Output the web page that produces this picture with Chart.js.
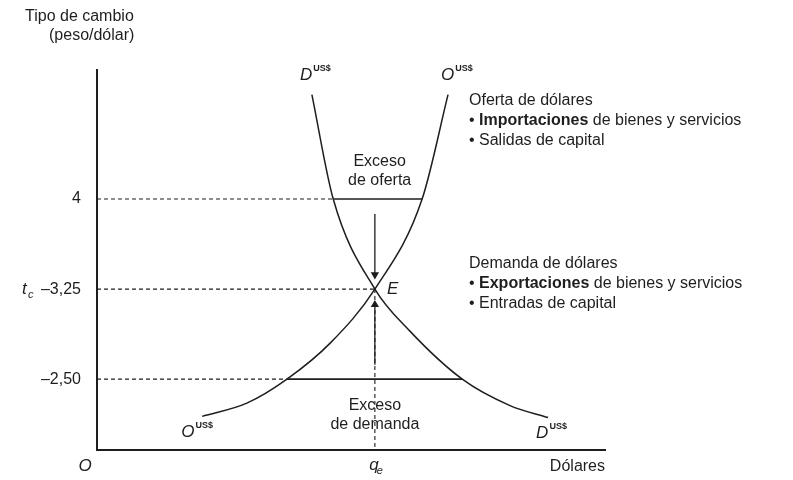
<!DOCTYPE html>
<html lang="es">
<head>
<meta charset="utf-8">
<title>Tipo de cambio - oferta y demanda de dólares</title>
<script src="https://cdn.jsdelivr.net/npm/chart.js@4.4.1/dist/chart.umd.min.js"></script>
<style>
    html, body { margin: 0; padding: 0; background: #fff; }
    #wrap { width: 793px; height: 480px; }
</style>
</head>
<body>
<div id="wrap"><canvas id="chart-fx" width="793" height="480"></canvas></div>
<script>
// Oferta de dólares (O US$): cantidad de dólares / tipo de cambio
const supplyQty  = [20.7, 29.5, 37.4, 45.9, 54.7, 64.0, 69.1];
const supplyRate = [2.19, 2.30, 2.50, 2.80, 3.25, 4.00, 4.87];

// Demanda de dólares (D US$)
const demandQty  = [42.3, 46.5, 54.7, 61.6, 71.9, 81.3, 88.8];
const demandRate = [4.87, 4.00, 3.25, 2.90, 2.50, 2.28, 2.18];

// Eje vertical
const yTicks      = [4, 3.25, 2.5];
const yTickLabels = ['4', '–3,25', '–2,50'];

// Equilibrio y excesos
const eqQty = 54.7, eqRate = 3.25;
const highRate = 4,   highQty   = [46.5, 64.0];   // exceso de oferta (D → O)
const lowRate  = 2.5, lowQty    = [37.4, 71.9];   // exceso de demanda (O → D)
const arrowDown = [3.875, 3.37];
const arrowUp   = [2.62, 3.12];

const Y_MIN = 1.91, Y_MAX = 5.075;
const INK = '#1e1e1e';
const FONT = '"Liberation Sans", Arial, sans-serif';

const pts = (xs, ys) => xs.map((x, i) => ({ x, y: ys[i] }));

const curve = (data) => ({
    data, borderColor: INK, borderWidth: 1.5, pointRadius: 0,
    cubicInterpolationMode: 'monotone', fill: false
});
const seg = (data, dashed) => ({
    data, borderColor: INK, borderWidth: dashed ? 1.1 : 1.6, pointRadius: 0,
    borderDash: dashed ? [4, 3] : [], fill: false
});
const arrow = (data, rot) => ({
    data, borderColor: INK, backgroundColor: INK, borderWidth: 1.3,
    pointStyle: 'triangle', pointRadius: [0, 3.5], pointRotation: rot, fill: false
});

// textos sobre el gráfico
const labelsPlugin = {
    id: 'labels',
    afterDraw(chart) {
        const { ctx } = chart;
        const xs = chart.scales.x, ys = chart.scales.y;
        const px = v => xs.getPixelForValue(v);
        const py = v => ys.getPixelForValue(v);

        ctx.save();
        ctx.fillStyle = INK;
        ctx.textBaseline = 'middle';

        const text = (s, x, y, opts = {}) => {
            ctx.font = `${opts.italic ? 'italic ' : ''}${opts.bold ? 'bold ' : ''}${opts.size || 16}px ${FONT}`;
            ctx.textAlign = opts.align || 'left';
            ctx.fillText(s, x, y);
            return ctx.measureText(s).width;
        };
        const curveLabel = (letter, x, y) => {
            const w = text(letter, x, y, { italic: true, size: 17 });
            text('US$', x + w + 1, y - 7, { size: 9, bold: true });
        };

        // título eje y
        text('Tipo de cambio', 25, 17);
        text('(peso/dólar)', 49, 36);

        // t_c
        text('t', 22, py(eqRate), { italic: true, size: 17 });
        text('c', 28, py(eqRate) + 6, { italic: true, size: 11 });

        // origen, eje x
        text('O', 85, 466, { italic: true, size: 17, align: 'center' });
        text('Dólares', 605, 467, { align: 'right' });
        text('q', px(eqQty) - 1, 465, { italic: true, size: 17, align: 'center' });
        text('e', px(eqQty) + 5, 471, { italic: true, size: 11, align: 'center' });

        // etiquetas de curvas
        curveLabel('D', px(demandQty[0]) - 12, py(demandRate[0]) - 19);
        curveLabel('O', px(supplyQty[supplyQty.length - 1]) - 7, py(supplyRate[supplyRate.length - 1]) - 19);
        curveLabel('O', px(supplyQty[0]) - 21, py(supplyRate[0]) + 16);
        curveLabel('D', px(demandQty[demandQty.length - 1]) - 12, py(demandRate[demandRate.length - 1]) + 16);

        // punto E
        text('E', px(eqQty) + 12, py(eqRate), { italic: true, size: 17 });

        // excesos
        const midHigh = (px(highQty[0]) + px(highQty[1])) / 2;
        text('Exceso', midHigh + 2, py(highRate) - 37, { align: 'center' });
        text('de oferta', midHigh + 2, py(highRate) - 18, { align: 'center' });
        text('Exceso', px(eqQty), py(lowRate) + 26, { align: 'center' });
        text('de demanda', px(eqQty), py(lowRate) + 45, { align: 'center' });

        // leyendas
        const block = (x, y, title, boldWord, rest, line3) => {
            text(title, x, y);
            let w = text('•', x, y + 20);
            w += text(' ', x + w, y + 20);
            w += text(boldWord, x + w, y + 20, { bold: true });
            text(rest, x + w, y + 20);
            const b = text('•', x, y + 40);
            text(' ' + line3, x + b, y + 40);
        };
        block(469, 101, 'Oferta de dólares', 'Importaciones', ' de bienes y servicios', 'Salidas de capital');
        block(469, 264, 'Demanda de dólares', 'Exportaciones', ' de bienes y servicios', 'Entradas de capital');

        ctx.restore();
    }
};

new Chart(document.getElementById('chart-fx'), {
    type: 'line',
    data: {
        datasets: [
            curve(pts(supplyQty, supplyRate)),
            curve(pts(demandQty, demandRate)),
            seg([{ x: 0, y: highRate }, { x: highQty[0], y: highRate }], true),
            seg([{ x: highQty[0], y: highRate }, { x: highQty[1], y: highRate }], false),
            seg([{ x: 0, y: eqRate }, { x: eqQty, y: eqRate }], true),
            seg([{ x: 0, y: lowRate }, { x: lowQty[0], y: lowRate }], true),
            seg([{ x: lowQty[0], y: lowRate }, { x: lowQty[1], y: lowRate }], false),
            seg([{ x: eqQty, y: eqRate }, { x: eqQty, y: Y_MIN }], true),
            arrow([{ x: eqQty, y: arrowDown[0] }, { x: eqQty, y: arrowDown[1] }], 180),
            arrow([{ x: eqQty, y: arrowUp[0] }, { x: eqQty, y: arrowUp[1] }], 0),
        ]
    },
    options: {
        responsive: false,
        animation: false,
        layout: { padding: { top: 70, right: 188, bottom: 0, left: 0 } },
        plugins: { legend: { display: false }, tooltip: { enabled: false } },
        scales: {
            x: {
                type: 'linear', min: 0, max: 100,
                grid: { display: false, drawTicks: false },
                border: { display: true, color: INK, width: 2 },
                ticks: { display: false },
                afterFit: s => { s.height = 30; }
            },
            y: {
                type: 'linear', min: Y_MIN, max: Y_MAX,
                grid: { display: false, drawTicks: false },
                border: { display: true, color: INK, width: 2 },
                afterBuildTicks: s => { s.ticks = yTicks.map(value => ({ value })); },
                ticks: {
                    color: INK, padding: 16, autoSkip: false,
                    font: { family: FONT, size: 16 },
                    callback: v => yTickLabels[yTicks.indexOf(v)]
                },
                afterFit: s => { s.width = 97; }
            }
        }
    },
    plugins: [labelsPlugin]
});
</script>
</body>
</html>
